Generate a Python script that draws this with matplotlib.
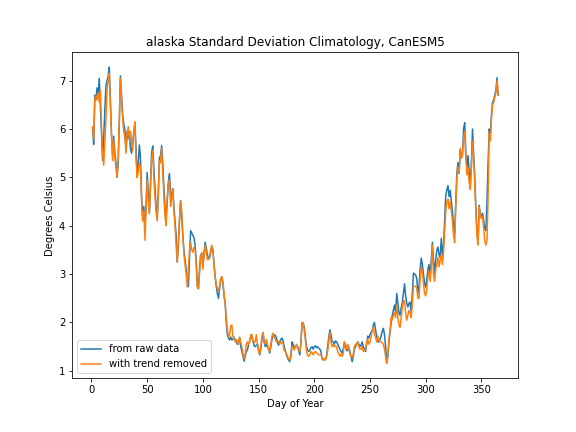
import numpy as np
import matplotlib
matplotlib.use("Agg")
import matplotlib.pyplot as plt

raw = [
6.0,5.68,6.7,6.6,6.85,6.7,7.05,6.5,5.9,
5.35,5.8,6.4,6.9,7.0,7.1,7.28,6.6,5.9,5.45,
5.85,5.5,5.3,5.0,5.3,6.1,7.1,6.7,6.3,6.1,
6.0,5.55,5.95,5.8,5.95,5.6,5.5,5.7,5.95,6.1,
5.6,5.0,5.3,5.67,5.4,4.6,4.15,4.4,4.0,4.4,
5.1,4.7,4.27,4.9,5.5,5.65,5.2,4.8,4.4,4.15,
4.7,5.4,5.45,5.66,5.3,4.8,4.4,4.1,4.5,4.9,
5.08,4.7,4.57,4.77,4.4,4.1,3.8,3.25,3.6,4.1,
4.52,4.2,3.8,3.5,3.3,3.1,2.9,2.75,3.3,3.9,
3.85,3.8,3.76,3.6,3.3,2.75,2.7,3.1,3.4,3.4,
3.15,3.4,3.66,3.55,3.4,3.35,3.33,3.45,3.56,3.5,
3.2,2.95,2.75,2.6,2.5,2.7,2.9,2.94,2.8,2.55,
2.4,2.0,1.74,1.68,1.64,1.7,1.64,1.65,1.7,1.62,
1.6,1.55,1.62,1.68,1.5,1.4,1.3,1.2,1.3,1.4,
1.43,1.55,1.62,1.7,1.7,1.62,1.52,1.5,1.53,1.55,
1.45,1.33,1.45,1.65,1.78,1.6,1.5,1.55,1.5,1.45,
1.37,1.5,1.65,1.72,1.74,1.74,1.68,1.58,1.53,1.6,
1.65,1.68,1.62,1.5,1.42,1.33,1.27,1.22,1.19,1.3,
1.6,1.55,1.47,1.5,1.52,1.5,1.42,1.33,1.6,1.99,
2.0,1.9,1.7,1.5,1.43,1.4,1.43,1.48,1.5,1.45,
1.5,1.52,1.48,1.5,1.47,1.45,1.4,1.25,1.25,1.23,
1.25,1.3,1.5,1.7,1.85,1.75,1.6,1.6,1.55,1.62,
1.6,1.55,1.5,1.45,1.4,1.37,1.45,1.58,1.5,1.42,
1.42,1.48,1.4,1.3,1.19,1.3,1.45,1.5,1.55,1.6,
1.55,1.5,1.53,1.6,1.5,1.45,1.4,1.55,1.72,1.68,
1.75,1.8,1.82,1.95,2.0,1.85,1.7,1.6,1.6,1.65,
1.72,1.82,1.88,1.75,1.5,1.16,1.3,1.6,1.8,2.0,
2.15,2.25,2.36,2.2,2.6,2.4,2.2,2.15,2.3,2.42,
2.6,2.8,2.55,2.4,2.32,2.4,2.42,2.2,2.6,3.02,
3.0,2.98,2.9,2.6,2.75,3.1,3.33,3.2,3.0,2.8,
2.73,2.9,3.1,3.2,2.94,3.3,3.66,3.3,3.02,3.3,
3.5,3.56,3.4,3.35,3.74,3.4,3.6,4.1,4.63,4.75,
4.83,4.6,4.73,4.5,4.3,4.0,3.84,4.5,5.1,5.31,
5.08,5.56,5.4,5.5,6.0,6.13,5.5,5.2,5.45,5.1,
4.83,5.3,6.0,5.5,5.0,4.4,3.9,3.66,4.42,4.25,
4.17,4.26,4.1,3.95,3.9,4.5,5.3,6.0,5.9,6.3,
6.55,6.6,6.7,6.8,7.06,6.7,
]

detrended = [
6.05,5.8,6.6,6.7,6.6,6.75,6.55,6.8,6.1,
5.5,5.25,5.7,6.2,6.8,7.0,7.15,6.5,5.85,5.35,
5.8,5.4,5.2,5.0,5.4,6.2,7.05,6.6,6.2,5.95,
5.85,5.5,5.9,6.05,5.8,5.95,5.75,5.55,5.95,6.15,
5.4,5.0,5.1,5.3,5.2,4.5,4.1,4.3,3.7,4.3,
4.95,4.5,4.25,4.8,5.35,5.55,5.0,4.6,4.3,4.1,
4.6,5.35,5.3,5.6,5.1,4.6,4.2,4.0,4.6,4.8,
4.95,4.4,4.55,4.75,4.3,4.0,3.6,3.25,3.7,4.15,
4.5,4.3,3.8,3.4,3.2,3.0,2.73,3.1,3.5,3.65,
3.5,3.45,3.55,3.5,3.2,2.75,2.7,3.0,3.35,3.45,
3.1,3.4,3.6,3.45,3.3,3.3,3.35,3.5,3.6,3.5,
3.2,2.95,2.8,2.7,2.65,2.75,2.9,2.95,2.85,2.6,
2.4,2.1,1.85,1.7,1.75,1.93,1.95,1.7,1.68,1.6,
1.65,1.6,1.55,1.7,1.6,1.5,1.35,1.25,1.35,1.55,
1.6,1.55,1.6,1.75,1.75,1.6,1.6,1.6,1.75,1.55,
1.4,1.35,1.5,1.72,1.8,1.6,1.55,1.65,1.55,1.45,
1.4,1.55,1.72,1.78,1.7,1.65,1.6,1.62,1.6,1.55,
1.6,1.58,1.55,1.42,1.4,1.35,1.3,1.25,1.22,1.35,
1.5,1.47,1.43,1.5,1.55,1.47,1.43,1.4,1.55,1.95,
2.0,1.85,1.65,1.42,1.32,1.3,1.33,1.4,1.38,1.33,
1.38,1.4,1.37,1.35,1.33,1.33,1.33,1.25,1.22,1.25,
1.22,1.3,1.4,1.6,1.8,1.6,1.5,1.55,1.5,1.52,
1.5,1.4,1.35,1.3,1.35,1.3,1.35,1.6,1.55,1.45,
1.55,1.5,1.35,1.3,1.27,1.35,1.5,1.55,1.55,1.6,
1.5,1.45,1.45,1.5,1.4,1.42,1.45,1.6,1.65,1.55,
1.6,1.7,1.85,1.9,1.75,1.7,1.6,1.72,1.65,1.6,
1.6,1.58,1.55,1.45,1.3,1.15,1.3,1.65,1.85,2.1,
2.05,2.15,2.2,2.1,2.35,2.1,1.95,1.9,2.1,2.3,
2.45,2.45,2.2,2.05,2.15,2.25,2.2,2.1,2.4,2.75,
2.75,2.75,2.7,2.5,2.5,2.9,3.15,3.05,2.8,2.6,
2.55,2.7,2.95,3.05,2.85,3.15,3.6,3.0,2.85,3.1,
3.2,3.35,3.15,3.3,3.4,3.2,3.45,3.9,4.3,4.5,
4.55,4.35,4.5,4.3,4.1,3.8,3.65,4.4,5.0,5.2,
5.1,5.6,5.4,5.45,5.8,5.95,5.4,5.05,5.2,4.9,
4.75,5.2,5.75,5.4,4.9,4.3,3.8,3.6,4.4,4.2,
4.15,4.2,3.95,3.7,3.6,3.7,4.6,5.9,5.75,6.2,
6.5,6.55,6.65,6.75,7.0,6.7,
]

days = np.arange(1, len(raw) + 1)

fig, ax = plt.subplots(figsize=(8, 6), dpi=72)
fig.subplots_adjust(left=0.1255, right=0.9, bottom=0.124, top=0.879)
ax.plot(days, raw, label="from raw data")
ax.plot(days, detrended, label="with trend removed")
ax.set_title("alaska Standard Deviation Climatology, CanESM5")
ax.set_xlabel("Day of Year")
ax.set_ylabel("Degrees Celsius")
ax.legend(loc="lower left")
fig.savefig("out.png", dpi=72)
